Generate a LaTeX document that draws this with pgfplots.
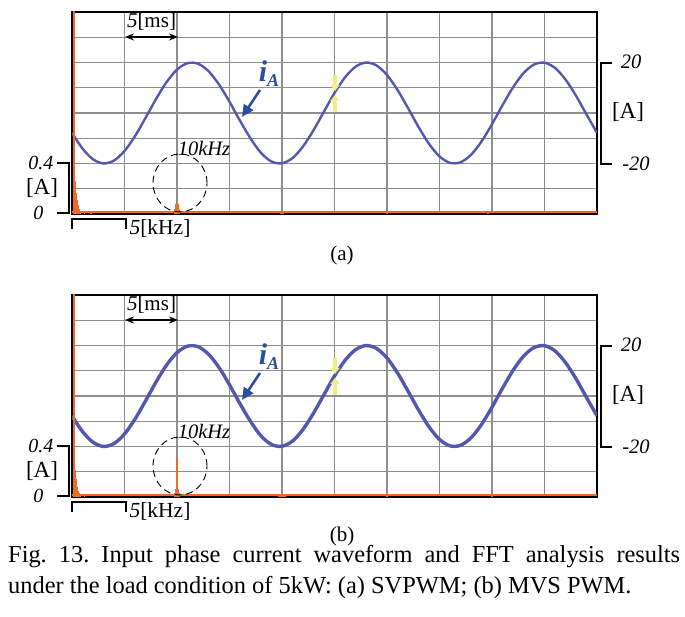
\documentclass[border=0pt]{standalone}
\usepackage{fontspec}
\setmainfont{Liberation Serif}
\usepackage{pgfplots}
\usepackage{pgfplotstable}
\pgfplotsset{compat=1.18}
\usetikzlibrary{arrows.meta}

\definecolor{wave}{HTML}{5358AE}
\definecolor{fft}{HTML}{EE6A2A}
\definecolor{gridgray}{HTML}{8E8E8E}
\definecolor{labelblue}{HTML}{2D4C9E}
\definecolor{trig}{HTML}{F2EE86}

% phase current i_A [A] vs time [ms]
\pgfplotstableread{
t i
0 -7.86
1 -14.09
2 -18.32
3 -19.99
4 -18.85
5 -15.05
6 -9.15
7 -1.96
8 5.51
9 12.20
10 17.18
11 19.74
12 19.53
13 16.57
14 11.31
15 4.44
16 -3.06
17 -10.05
18 -15.80
19 -19.22
20 -19.91
21 -17.86
22 -13.26
23 -6.83
24 0.56
25 7.91
26 14.10
27 18.33
28 19.99
29 18.84
30 15.05
31 9.14
32 1.95
33 -5.52
34 -12.21
35 -17.19
36 -19.75
37 -19.53
38 -16.57
39 -11.30
40 -4.42
41 3.07
42 10.13
43 15.77
44 19.19
45 19.92
46 17.85
47 13.26
48 6.84
49 -0.57
50 -7.87
}\wavetable

% FFT magnitude [A] vs frequency [kHz], SVPWM
\pgfplotstableread{
f a
0.20 2.00
0.29 0.26
0.38 0.17
0.48 0.11
0.57 0.07
0.67 0.04
0.76 0.025
1.2 0.012
1.8 0.010
9.8 0.04
9.9 0.08
10.0 0.09
10.1 0.08
10.2 0.04
19.9 0.02
20.0 0.03
20.1 0.02
30.0 0.015
39.6 0.010
}\ffta

% FFT magnitude [A] vs frequency [kHz], MVS PWM
\pgfplotstableread{
f a
0.20 2.00
0.29 0.21
0.38 0.14
0.48 0.08
0.57 0.05
0.67 0.03
0.76 0.02
1.2 0.010
9.8 0.03
9.9 0.06
10.0 0.31
10.1 0.06
10.2 0.03
19.7 0.015
19.9 0.025
20.0 0.025
20.1 0.025
20.3 0.015
30.0 0.015
40.0 0.008
}\fftb

\pgfplotsset{
  scope/.style={anchor=south west, scale only axis, width=525pt, height=202pt,
    xmin=0, xmax=50},
  wavebox/.style={scope, ymin=-40, ymax=40,
    xtick={0,5,...,50}, ytick={-40,-30,...,40},
    xticklabels={}, yticklabels={}, major tick length=0pt,
    grid=major, grid style={gridgray, line width=1.1pt},
    axis line style={black, line width=2.5pt}},
  fftbox/.style={scope, ymin=0, ymax=1.6, hide axis},
}

\newcommand{\annot}{%
  \node[font=\fontsize{21}{24}\selectfont] at (151.5pt,595pt) {\textit{5}[ms]};
  \draw[{Stealth[length=9pt,width=7pt]}-{Stealth[length=9pt,width=7pt]}, line width=1.4pt]
    (125pt,580pt) -- (178pt,580pt);
  \node[font=\fontsize{20.5}{22}\selectfont\itshape] at (204pt,469pt) {10kHz};
  \draw[line width=0.9pt, dash pattern=on 7pt off 4.5pt] (180pt,434pt) ellipse (27pt and 29pt);
  \node[labelblue, font=\fontsize{30}{32}\selectfont\bfseries\itshape]
    at (269pt,543pt) {i\raisebox{-5pt}{\fontsize{18}{18}\selectfont A}};
  \draw[labelblue, line width=2.6pt, -{Triangle[length=12pt,width=11pt]}]
    (260pt,527pt) -- (242pt,500pt);
  \draw[trig, line width=4.5pt, -{Triangle[length=6pt,width=9pt]}] (335pt,542pt) -- (335pt,526pt);
  \draw[trig, line width=4.5pt, -{Triangle[length=6pt,width=9pt]}] (335pt,505pt) -- (335pt,522pt);
  % FFT scale (left)
  \node[anchor=east, font=\fontsize{20}{22}\selectfont\itshape] at (57pt,454pt) {0.4};
  \node[font=\fontsize{23}{26}\selectfont] at (42pt,429pt) {[A]};
  \node[anchor=east, font=\fontsize{20}{22}\selectfont\itshape] at (47pt,404pt) {0};
  \draw[line width=2.5pt] (57pt,454pt) -- (69pt,454pt) -- (69pt,404pt) -- (57pt,404pt);
  % waveform scale (right)
  \draw[line width=2.5pt] (612pt,554pt) -- (601pt,554pt) -- (601pt,453pt) -- (612pt,453pt);
  \node[font=\fontsize{20.5}{22}\selectfont\itshape] at (631pt,555pt) {20};
  \node[font=\fontsize{23}{26}\selectfont] at (628pt,505pt) {[A]};
  \node[font=\fontsize{20.5}{22}\selectfont\itshape] at (636pt,453pt) {-20};
  % frequency scale
  \draw[line width=2.5pt] (72pt,388pt) -- (72pt,398pt) -- (126pt,398pt) -- (126pt,388pt);
  \node[font=\fontsize{21.5}{24}\selectfont] at (160pt,389pt) {\textit{5}[kHz]};
}

\begin{document}
\frenchspacing
\begin{tikzpicture}
\useasboundingbox (0,0) rectangle (685pt,617pt);

% ---------- (a) SVPWM ----------
\begin{axis}[wavebox, at={(72pt,403pt)}]
\addplot[wave, line width=2.4pt, smooth] table[x=t, y=i] {\wavetable};
\end{axis}
\begin{axis}[fftbox, at={(72pt,403pt)}]
\addplot[fft, line width=2pt] coordinates {(0,0.012) (50,0.012)};
\addplot[fft, ycomb, line width=1.4pt] table[x=f, y=a] {\ffta};
\end{axis}
\annot
\node[font=\fontsize{21}{24}\selectfont] at (342pt,362pt) {(a)};

% ---------- (b) MVS PWM ----------
\begin{axis}[wavebox, at={(72pt,120pt)}]
\addplot[wave, line width=3.4pt, smooth] table[x=t, y=i] {\wavetable};
\end{axis}
\begin{axis}[fftbox, at={(72pt,120pt)}]
\addplot[fft, line width=2pt] coordinates {(0,0.012) (50,0.012)};
\addplot[fft, ycomb, line width=1.4pt] table[x=f, y=a] {\fftb};
\end{axis}
\begin{scope}[yshift=-283pt]
\annot
\end{scope}
\node[font=\fontsize{21}{24}\selectfont] at (342pt,81pt) {(b)};

% ---------- caption ----------
\node[anchor=base west, inner sep=0pt, font=\fontsize{24.4}{30}\selectfont] at (8pt,54pt)
  {\makebox[672pt][s]{Fig. 13. Input phase current waveform and FFT analysis results}};
\node[anchor=base west, inner sep=0pt, font=\fontsize{24.4}{30}\selectfont] at (8pt,23pt)
  {under the load condition of 5kW: (a) SVPWM; (b) MVS PWM.};
\end{tikzpicture}
\end{document}
